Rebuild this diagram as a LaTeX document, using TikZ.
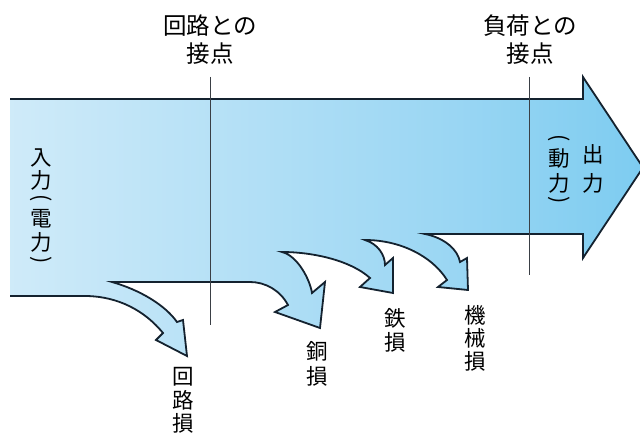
\documentclass[tikz,border=0pt]{standalone}
\usepackage{fontspec}
\newfontfamily\jp{Noto Sans CJK JP}
\definecolor{edge}{HTML}{14222F}
\definecolor{vline}{HTML}{3A3F45}
\definecolor{c0}{HTML}{F4FAFE}
\definecolor{c1}{HTML}{C6E7F8}
\definecolor{c2}{HTML}{9AD6F3}
\definecolor{c3}{HTML}{6CC6EF}
\definecolor{c4}{HTML}{27ADE6}
\pgfdeclarehorizontalshading{flow}{100bp}{color(0bp)=(c0); color(31bp)=(c1); color(60bp)=(c2); color(84bp)=(c3); color(100bp)=(c4)}
\def\flowpath{(10,99) -- (583,99) -- (583,77) -- (643,167.5) -- (583,258) -- (583,234) -- (425,234)
  .. controls (445,238) and (458,250) .. (460,262) -- (467,258) -- (468,290) -- (438,287) -- (447,280)
  .. controls (432,256) and (400,240) .. (365,240)
  .. controls (378,244) and (385,255) .. (385,265) -- (393,258) -- (393,293) -- (360,287) -- (370,278)
  .. controls (350,260) and (312,252) .. (282,252)
  .. controls (298,256) and (310,280) .. (312,293) -- (325,282) -- (320,328) -- (275,312) -- (288,305)
  .. controls (280,290) and (265,282) .. (250,282)
  -- (112,282)
  .. controls (140,290) and (165,305) .. (177,322) -- (183,320) -- (187,356) -- (156,340) -- (163,333)
  .. controls (140,305) and (110,296) .. (85,296) -- (10,296)}
\newcommand\vpar[1]{\rotatebox[origin=c]{-90}{#1}}
\begin{document}
\begin{tikzpicture}[x=1pt,y=-1pt,
  bandfill/.style={shading=flow},
  bandedge/.style={draw=edge, line width=1.8pt},
  contact/.style={draw=vline, line width=0.9pt},
  ch/.style={font=\jp\fontsize{21.5}{24}\selectfont, inner sep=0pt, text=black},
  toplbl/.style={font=\jp\fontsize{23.5}{28}\selectfont, inner sep=0pt, text=black}]
\useasboundingbox (0,0) rectangle (640,436);
\fill[white] (0,0) rectangle (640,436);
% main flow with loss branches (left end left open)
\path[bandfill] \flowpath -- cycle;
\path[bandedge] \flowpath;
% contact lines
\coordinate (c1t) at (210,77); \coordinate (c1b) at (210,325);
\coordinate (c2t) at (529,77); \coordinate (c2b) at (529,275);
\draw[contact] (c1t) -- (c1b);
\draw[contact] (c2t) -- (c2b);
% top labels
\node[toplbl] (t1a) at (210,26) {回路との};
\node[toplbl] (t1b) at (210,54) {接点};
\node[toplbl] (t2a) at (530,26) {負荷との};
\node[toplbl] (t2b) at (530,54) {接点};
% input label
\node[ch] (in1) at (41,158) {入};
\node[ch] (in2) at (41,180) {力};
\node[ch] (in3) at (41,200) {\vpar{(}};
\node[ch] (in4) at (41,219) {電};
\node[ch] (in5) at (41,242) {力};
\node[ch] (in6) at (41,262) {\vpar{)}};
% output label
\node[ch] (outa1) at (593,154) {出};
\node[ch] (outa2) at (593,183) {力};
\node[ch] (outb1) at (559,140) {\vpar{(}};
\node[ch] (outb2) at (559,158) {動};
\node[ch] (outb3) at (559,183) {力};
\node[ch] (outb4) at (559,202) {\vpar{)}};
% loss labels
\foreach \c/\y [count=\i] in {回/377,路/400,損/423}
  \node[ch] (la\i) at (183,\y) {\c};
\foreach \c/\y [count=\i] in {銅/351,損/376}
  \node[ch] (lb\i) at (317,\y) {\c};
\foreach \c/\y [count=\i] in {鉄/318,損/342}
  \node[ch] (lc\i) at (395,\y) {\c};
\foreach \c/\y [count=\i] in {機/315,械/338,損/361}
  \node[ch] (ld\i) at (475,\y) {\c};
\end{tikzpicture}
\end{document}
